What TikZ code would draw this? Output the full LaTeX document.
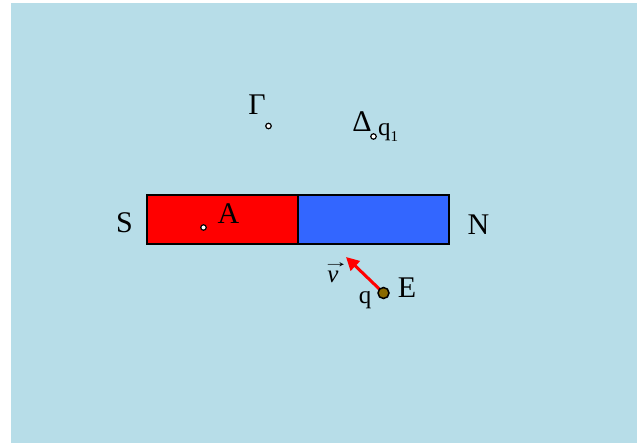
\documentclass[tikz,border=0pt]{standalone}
\usepackage{fontspec}
\setmainfont{Liberation Serif}
\usetikzlibrary{arrows.meta}
\definecolor{bg}{HTML}{B7DDE8}
\definecolor{magred}{HTML}{FF0000}
\definecolor{magblue}{HTML}{3366FF}
\definecolor{chg}{HTML}{8A6A00}
\begin{document}
\begin{tikzpicture}[x=1pt,y=-1pt,
  lbl/.style={font=\fontsize{30}{34}\selectfont, inner sep=0, anchor=base},
  small/.style={font=\fontsize{25}{29}\selectfont, inner sep=0, anchor=base},
  dotpt/.style={circle, draw=black, fill=white, line width=1.2pt, minimum size=5.5pt, inner sep=0},
  pole/.style={rectangle, draw=black, line width=1.5pt, minimum width=151pt, minimum height=49pt, inner sep=0}]
\useasboundingbox (0,0) rectangle (637,443);
\fill[bg] (11,3) rectangle (637,443);
% magnet
\node[pole, fill=magred] (south) at (222.5,219.5) {};
\node[pole, fill=magblue] (north) at (373.5,219.5) {};
% labels
\node[lbl] (S) at (124.5,233) {S};
\node[lbl] (N) at (478.5,235) {N};
\node[lbl] (A) at (228.5,224) {A};
\node[lbl] (G) at (257,115) {Γ};
\node[lbl] (D) at (362,132) {Δ};
\node[small, anchor=base west] (q1) at (378,136) {q\raisebox{-6pt}{\fontsize{15}{17}\selectfont 1}};
\node[lbl] (E) at (407,298) {E};
\node[small] (q) at (365,304) {q};
\node[small] (v) at (333,283) {\rlap{\hspace{-5pt}\raisebox{15pt}{\scalebox{1.5}[0.9]{\fontsize{18}{18}\selectfont →}}}\textit{v}};
% points
\node[dotpt] (pG) at (268.5,126) {};
\node[dotpt] (pD) at (373.5,136.5) {};
\node[dotpt] (pA) at (203.5,227.5) {};
% charge and velocity
\coordinate (qc) at (383.5,293);
\coordinate (tip) at (346,257);
\draw[magred, line width=3pt, -{Triangle[length=13pt,width=13pt]}] (qc) -- (tip);
\node[circle, draw=black, fill=chg, line width=1.5pt, minimum size=11pt, inner sep=0] (charge) at (qc) {};
\end{tikzpicture}
\end{document}
